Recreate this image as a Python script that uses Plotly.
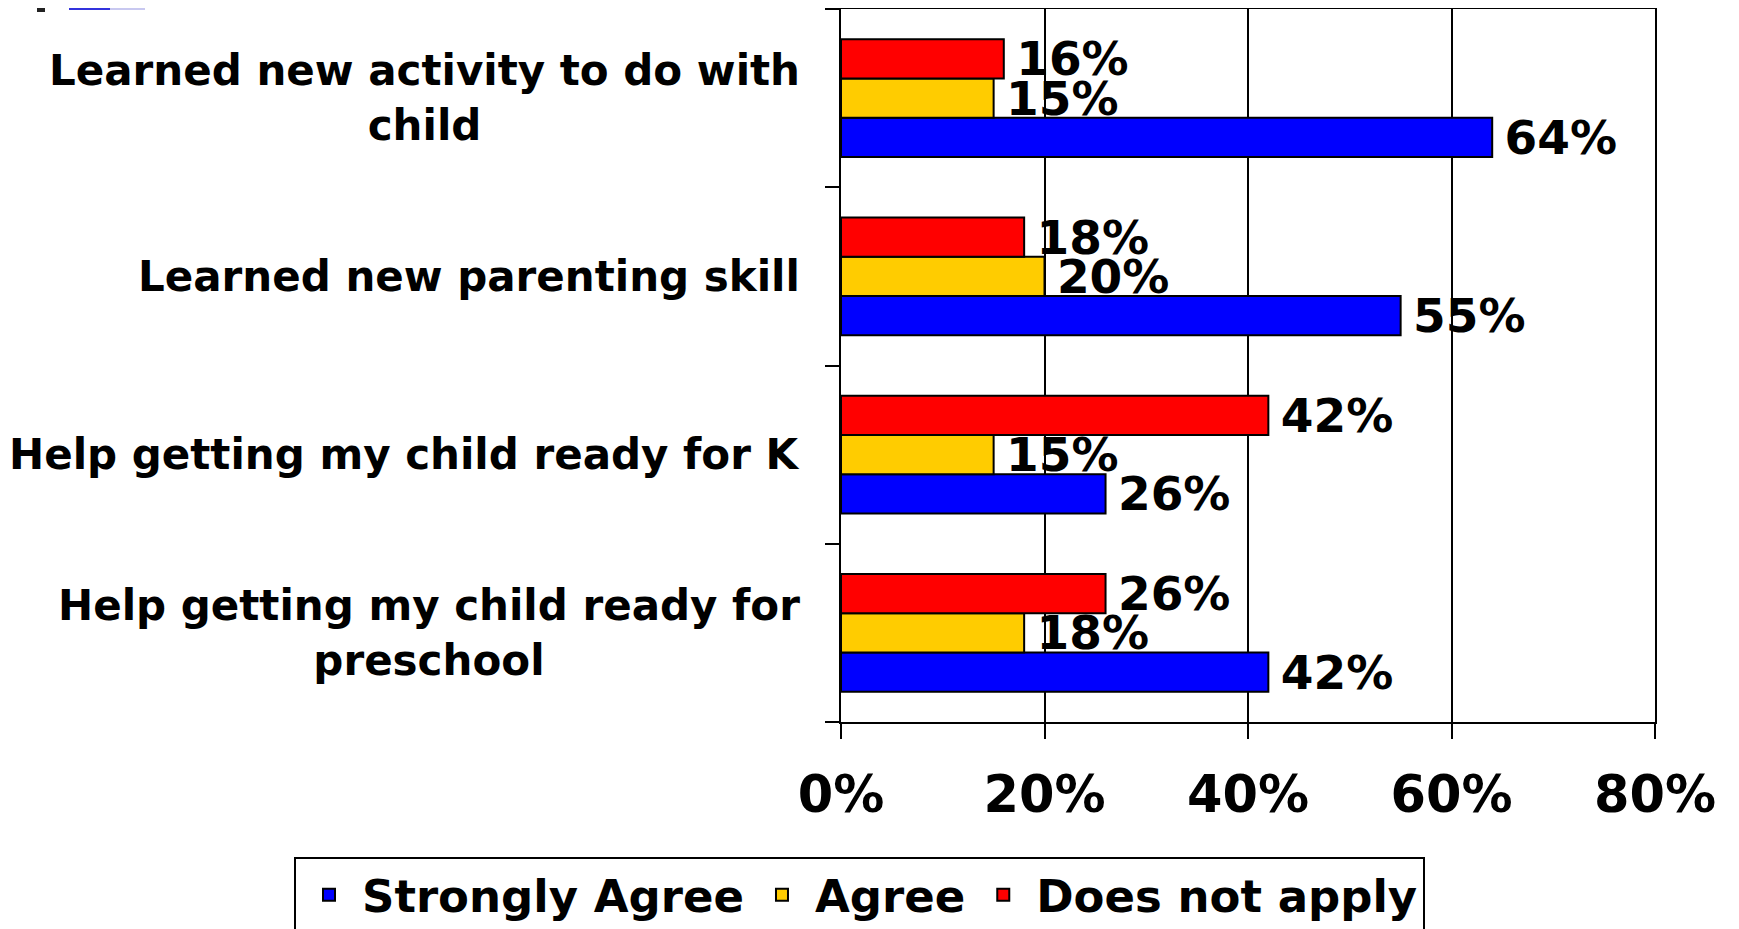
import plotly.graph_objects as go

categories = [
    "Learned new activity to do with<br>child",
    "Learned new parenting skill",
    "Help getting my child ready for K",
    "Help getting my child ready for<br>preschool",
]
series_names = ["Strongly Agree", "Agree", "Does not apply"]
strongly_agree = [64, 55, 26, 42]
agree = [15, 20, 15, 18]
does_not_apply = [16, 18, 42, 26]
x_ticks = [0, 20, 40, 60, 80]
x_tick_labels = ["0%", "20%", "40%", "60%", "80%"]

colors = ["#0000FF", "#FFCC00", "#FF0000"]
FONT = "DejaVu Sans"

W, H = 1739, 929
OFF = 8  # page body margin
L, R, T, B = 841 - OFF, 1655 - OFF, 9 - OFF, 722 - OFF

fig = go.Figure()
for name, vals, col in zip(series_names, [strongly_agree, agree, does_not_apply], colors):
    fig.add_trace(go.Bar(
        y=categories, x=vals, name=name, orientation="h",
        marker=dict(color=col, line=dict(color="black", width=2)),
        text=[f"\u2009{v}%" for v in vals], textposition="outside",
        textfont=dict(family=FONT, size=47, color="black", weight="bold"),
        constraintext="none", cliponaxis=False,
    ))

for c in categories:
    fig.add_annotation(
        x=0, xref="paper", y=c, yref="y", text=c, showarrow=False,
        xanchor="right", yanchor="middle", align="center", xshift=-39,
        font=dict(family=FONT, size=42, color="black", weight="bold"),
    )

pw = R - L
ph = B - T


def px(x):
    return (x - OFF - L) / pw


def py(y):
    return (B - (y - OFF)) / ph


# small slide decoration at top-left
fig.add_shape(type="rect", xref="paper", yref="paper",
              x0=px(37), x1=px(45), y0=py(12), y1=py(-5),
              fillcolor="#222222", line=dict(width=0))
fig.add_shape(type="rect", xref="paper", yref="paper",
              x0=px(69), x1=px(110), y0=py(10), y1=py(-5),
              fillcolor="#3333DD", line=dict(width=0))
fig.add_shape(type="rect", xref="paper", yref="paper",
              x0=px(110), x1=px(145), y0=py(10), y1=py(-5),
              fillcolor="#C8C8F0", line=dict(width=0))

fig.update_layout(
    width=W, height=H, autosize=False,
    margin=dict(l=L, r=W - R, t=T, b=H - B, pad=0, autoexpand=False),
    paper_bgcolor="white", plot_bgcolor="white",
    barmode="group", bargap=0.34, bargroupgap=0,
    showlegend=True,
    legend=dict(
        orientation="h", x=px(294), xanchor="left",
        y=py(857), yanchor="top",
        bordercolor="black", borderwidth=2, bgcolor="white",
        font=dict(family=FONT, size=45, color="black", weight="bold"),
        itemsizing="constant", traceorder="normal", itemwidth=56,
    ),
    xaxis=dict(
        range=[0, 80], tickvals=x_ticks, ticktext=x_tick_labels,
        showgrid=True, gridcolor="black", gridwidth=1.5,
        showline=True, linecolor="black", linewidth=2, mirror=True,
        ticks="outside", ticklen=15, tickwidth=1.5, tickcolor="black",
        ticklabelstandoff=12,
        tickfont=dict(family=FONT, size=51, color="black", weight="bold"),
        zeroline=False, fixedrange=True,
    ),
    yaxis=dict(
        categoryorder="array", categoryarray=list(reversed(categories)),
        showticklabels=False, showgrid=False,
        showline=True, linecolor="black", linewidth=2, mirror=True,
        ticks="outside", ticklen=14, tickwidth=1.5, tickcolor="black",
        tickson="boundaries", fixedrange=True,
    ),
)

fig.write_html("out.html")
